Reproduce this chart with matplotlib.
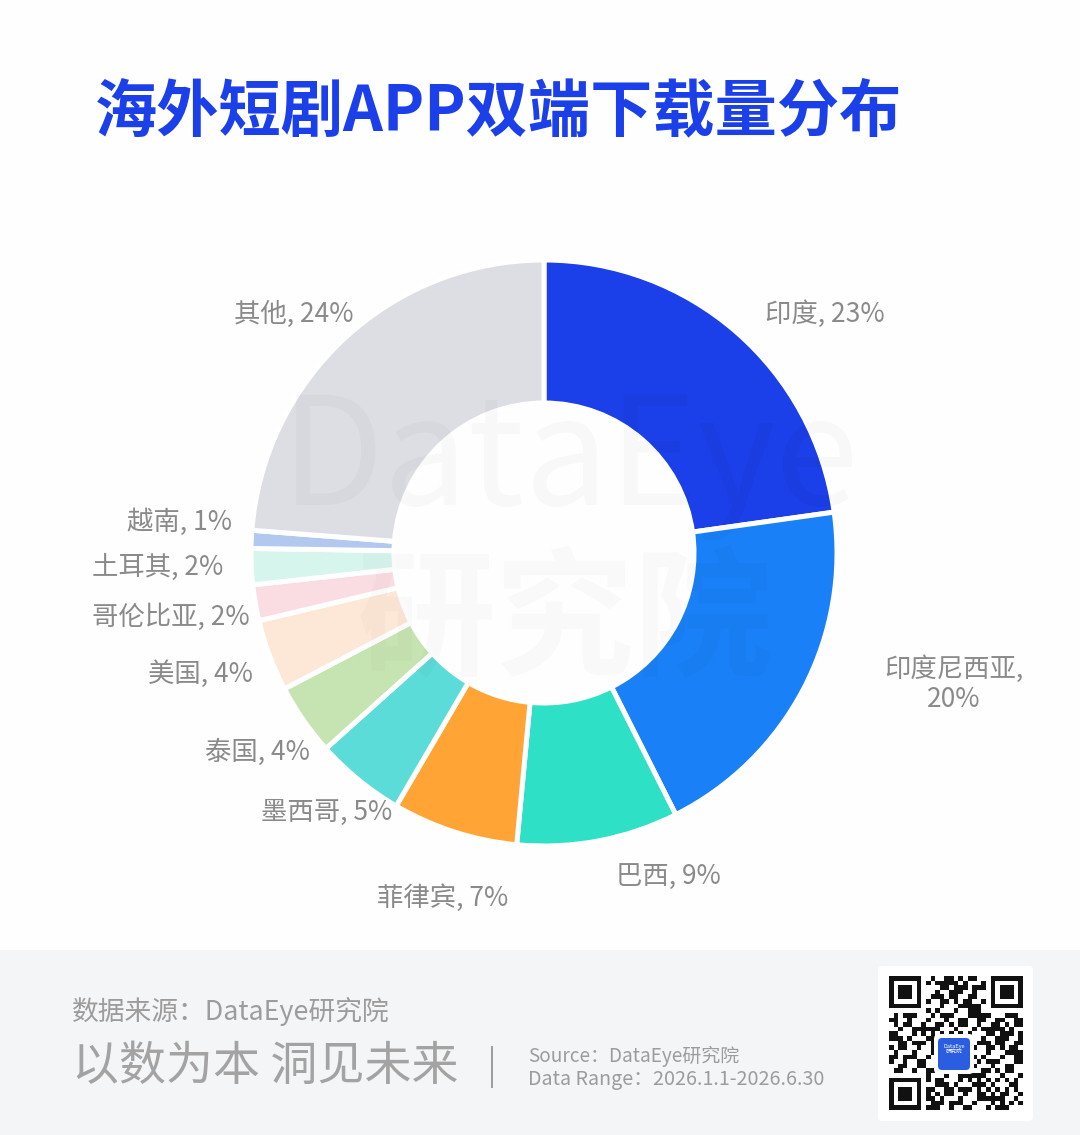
import numpy as np
import matplotlib
matplotlib.use('Agg')
import matplotlib.pyplot as plt
from matplotlib.patches import Rectangle, FancyBboxPatch

plt.rcParams['font.family'] = ['Noto Sans CJK SC', 'DejaVu Sans']

# ---- data ----
title = '海外短剧APP双端下载量分布'
countries = ['印度', '印度尼西亚', '巴西', '菲律宾', '墨西哥', '泰国', '美国',
             '哥伦比亚', '土耳其', '越南', '其他']
shares = [23, 20, 9, 7, 5, 4, 4, 2, 2, 1, 24]
colors = ['#1b3fe8', '#1a80f7', '#2ee0c5', '#ffa435', '#5cdcd8', '#c6e4b1',
          '#fde7d6', '#fadde3', '#d6f5ed', '#b2c8ef', '#dcdee3']

# ---- layout (label nudges in px: dx, dy(down), align, wrap) ----
label_layout = [(5, 10, 'left', False), (48, -22, 'left', True), (11, 0, 'left', False),
                (0, 31, 'center', False), (57, 4, 'right', False), (37, 11, 'right', False),
                (18, 6, 'right', False), (31, 8, 'right', False), (9, -1, 'right', False),
                (18, -15, 'right', False), (34, 4, 'right', False)]

W, H = 1080, 1135
fig = plt.figure(figsize=(10.8, 11.35), dpi=100)
fig.patch.set_facecolor('#fefefe')
ax = fig.add_axes([0, 0, 1, 1])


def Y(y):
    return H - y


cx, cy = 544, Y(553)
R_OUT, R_W = 293, 143
wedges, _ = ax.pie(shares, colors=colors, startangle=90, counterclock=False,
                   radius=R_OUT, center=(cx, cy), frame=True,
                   wedgeprops=dict(width=R_W, edgecolor='white', linewidth=3.6))
ax.set_xlim(0, W)
ax.set_ylim(0, H)
ax.set_aspect('equal')
ax.axis('off')

# footer band
ax.add_patch(Rectangle((0, 0), W, H - 950, facecolor='#f4f5f7', edgecolor='none', zorder=0))

# labels
R_LAB = 330
for w, name, val, (dx, dy, ha, wrap) in zip(wedges, countries, shares, label_layout):
    mid = np.deg2rad((w.theta1 + w.theta2) / 2)
    x = cx + R_LAB * np.cos(mid) + dx
    y = cy + R_LAB * np.sin(mid) - dy
    txt = f'{name},\n{val}%' if wrap else f'{name}, {val}%'
    ax.text(x, y, txt, ha=ha, va='center', multialignment='center',
            fontsize=19, color='#8a8a8a', linespacing=1.15, zorder=5)

# watermark (very faint)
ax.text(570, Y(462), 'DataEye', ha='center', va='center', fontsize=108,
        color='#000000', alpha=0.022, fontweight='medium', zorder=6)
ax.text(565, Y(625), '研究院', ha='center', va='center', fontsize=100,
        color='#000000', alpha=0.02, fontweight='bold', zorder=6)

# title
ax.text(95, Y(112), title, ha='left', va='center', fontsize=44.8,
        fontweight='black', color='#1b3fe8', zorder=5)

# footer texts
ax.text(72, Y(1012), '数据来源：DataEye研究院', ha='left', va='center',
        fontsize=19.3, color='#9c9c9c', fontweight='light')
ax.text(72, Y(1067), '以数为本 洞见未来', ha='left', va='center',
        fontsize=33.8, color='#a3a3a3', fontweight='light')
ax.plot([492, 492], [Y(1047), Y(1087)], color='#9c9c9c', lw=1.4)
ax.text(528, Y(1056), 'Source：DataEye研究院', ha='left', va='center',
        fontsize=13.7, color='#9c9c9c', fontweight='light')
ax.text(528, Y(1080), 'Data Range：2026.1.1-2026.6.30', ha='left', va='center',
        fontsize=14.2, color='#9c9c9c', fontweight='light')

# QR-like badge (decorative)
ax.add_patch(FancyBboxPatch((878, Y(1121)), 155, 155,
                            boxstyle='round,pad=0,rounding_size=4',
                            facecolor='white', edgecolor='none', zorder=2))
N = 29
qx0, qy0, qs = 889, Y(1110), 134 / N
for i in range(N):
    for j in range(N):
        in_finder = (i < 8 and j < 8) or (i < 8 and j >= N - 8) or (i >= N - 8 and j < 8)
        if in_finder:
            continue
        if ((i * 7 + j * 11 + (i * j) % 5) % 3 == 0) or ((i ^ j) % 4 == 1):
            ax.add_patch(Rectangle((qx0 + j * qs, qy0 + (N - 1 - i) * qs), qs, qs,
                                   facecolor='#111111', edgecolor='none', zorder=3))
for (fi, fj) in [(0, 0), (0, N - 7), (N - 7, 0)]:
    x0 = qx0 + fj * qs
    y0 = qy0 + (N - fi - 7) * qs
    ax.add_patch(Rectangle((x0, y0), 7 * qs, 7 * qs, facecolor='#111111', edgecolor='none', zorder=3))
    ax.add_patch(Rectangle((x0 + qs, y0 + qs), 5 * qs, 5 * qs, facecolor='white', edgecolor='none', zorder=3))
    ax.add_patch(Rectangle((x0 + 2 * qs, y0 + 2 * qs), 3 * qs, 3 * qs, facecolor='#111111', edgecolor='none', zorder=3))
ax.add_patch(FancyBboxPatch((936, Y(1072)), 36, 36,
                            boxstyle='round,pad=2,rounding_size=5',
                            facecolor='white', edgecolor='none', zorder=4))
ax.add_patch(FancyBboxPatch((938, Y(1070)), 32, 32,
                            boxstyle='round,pad=0,rounding_size=4',
                            facecolor='#2b5de0', edgecolor='none', zorder=4))
ax.text(954, Y(1049), 'DataEye\n研究院', ha='center', va='center', fontsize=4,
        color='white', zorder=5, linespacing=1.2)

fig.savefig('out.png', dpi=100, facecolor=fig.get_facecolor())
